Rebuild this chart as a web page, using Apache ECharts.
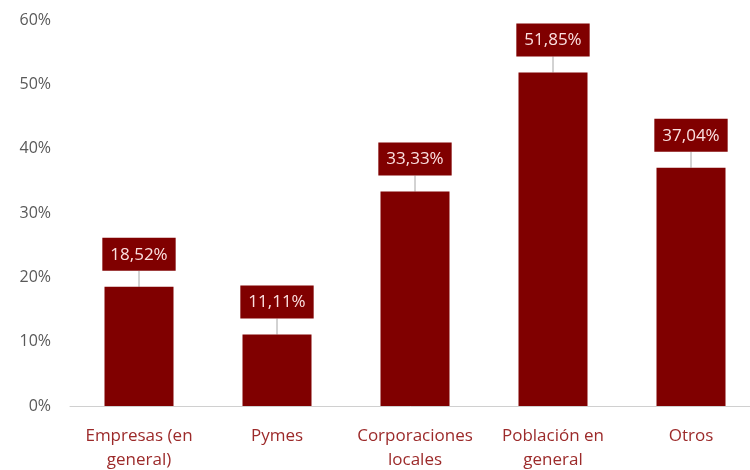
<!DOCTYPE html>
<html><head><meta charset="utf-8">
<script src="https://cdn.jsdelivr.net/npm/echarts@6/dist/echarts.min.js"></script>
<style>html,body{margin:0;padding:0;background:#fff}#c{width:750px;height:470px}</style>
</head><body><div id="c"></div>
<script>
var categories = ['Empresas (en\ngeneral)', 'Pymes', 'Corporaciones\nlocales', 'Población en\ngeneral', 'Otros'];
var values = [18.52, 11.11, 33.33, 51.85, 37.04];
var yTicks = [0, 10, 20, 30, 40, 50, 60];

var chart = echarts.init(document.getElementById('c'));
chart.setOption({
  animation: false,
  grid: {left: 70, right: -10, top: 20, bottom: 64, outerBoundsMode: 'none', containLabel: false},
  xAxis: {
    type: 'category', data: categories,
    axisLine: {lineStyle: {color: '#d0d0d0', width: 1}},
    axisTick: {show: false},
    axisLabel: {interval: 0, color: '#9c2a2a', fontSize: 17, fontFamily: 'Open Sans', lineHeight: 24, margin: 18}
  },
  yAxis: {
    type: 'value', min: yTicks[0], max: yTicks[yTicks.length-1], interval: 10,
    splitLine: {show: false},
    axisLine: {show: false}, axisTick: {show: false},
    axisLabel: {color: '#595959', fontSize: 16, fontFamily: 'Open Sans', margin: 19,
      formatter: function (v) { return v + '%'; }}
  },
  series: [{
    type: 'bar', data: values, barWidth: '50%',
    itemStyle: {color: '#800000'},
    label: {
      show: true, position: 'top', distance: 0,
      backgroundColor: '#800000', color: '#fbe0e0',
      fontSize: 17, fontFamily: 'Open Sans', lineHeight: 20, padding: [7, 8, 6, 8],
      formatter: function (p) { return p.value.toFixed(2).replace('.', ',') + '%'; }
    },
    labelLayout: {dy: -16},
    labelLine: {show: true, lineStyle: {color: '#a6a6a6', width: 1}}
  }]
});
</script></body></html>
